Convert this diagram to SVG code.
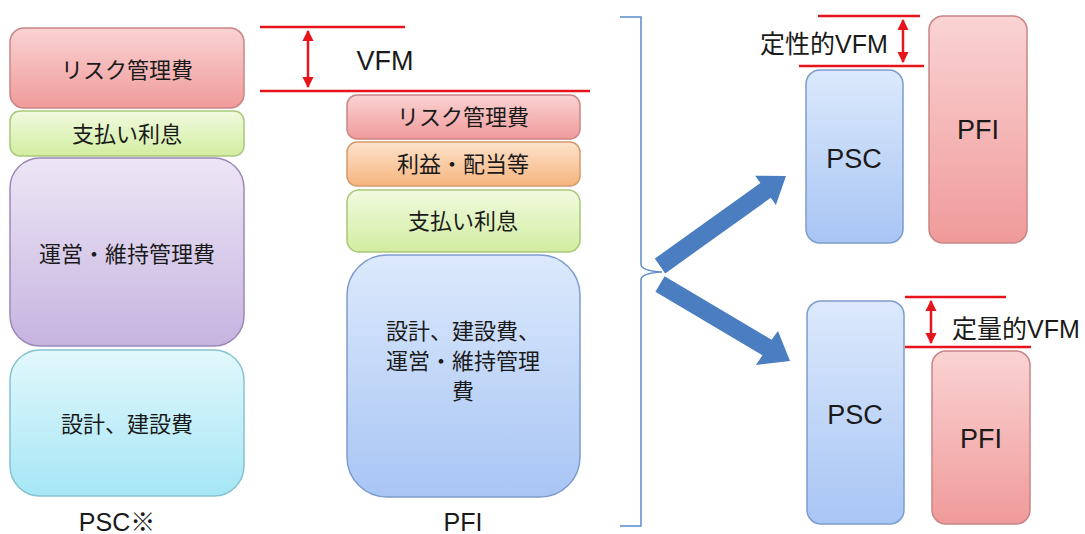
<svg xmlns="http://www.w3.org/2000/svg" width="1085" height="534" viewBox="0 0 1085 534">
<defs>
<linearGradient id="gRed" x1="0" y1="0" x2="0" y2="1"><stop offset="0" stop-color="#fad3d3"/><stop offset="1" stop-color="#f09a9a"/></linearGradient>
<linearGradient id="gGreen" x1="0" y1="0" x2="0" y2="1"><stop offset="0" stop-color="#f1fadf"/><stop offset="1" stop-color="#d2eda0"/></linearGradient>
<linearGradient id="gPurple" x1="0" y1="0" x2="0" y2="1"><stop offset="0" stop-color="#ede6f5"/><stop offset="1" stop-color="#c6b4e0"/></linearGradient>
<linearGradient id="gCyan" x1="0" y1="0" x2="0" y2="1"><stop offset="0" stop-color="#e2f8fc"/><stop offset="1" stop-color="#a6e6f5"/></linearGradient>
<linearGradient id="gOrange" x1="0" y1="0" x2="0" y2="1"><stop offset="0" stop-color="#fde3cb"/><stop offset="1" stop-color="#f6b47e"/></linearGradient>
<linearGradient id="gBlue" x1="0" y1="0" x2="0" y2="1"><stop offset="0" stop-color="#dce9fc"/><stop offset="1" stop-color="#a8c5f4"/></linearGradient>
<marker id="ah" viewBox="0 0 10 10" refX="9" refY="5" markerWidth="4.5" markerHeight="4.5" orient="auto-start-reverse"><path d="M0,0 L10,5 L0,10 z" fill="#e8141c"/></marker>
</defs>
<style>
text{font-family:"Liberation Sans","Noto Sans CJK JP",sans-serif;fill:#1a1a1a;text-anchor:middle}
.jp{font-size:22px}
.lbl{font-size:25px}
.vfm{font-size:27px}
.side{font-size:25px}
.big{font-size:27px}
.red{fill:url(#gRed);stroke:#c98585;stroke-width:1.5}
.green{fill:url(#gGreen);stroke:#a8c77a;stroke-width:1.5}
.purple{fill:url(#gPurple);stroke:#9c88b8;stroke-width:1.5}
.cyan{fill:url(#gCyan);stroke:#86c2cf;stroke-width:1.5}
.orange{fill:url(#gOrange);stroke:#d39b6b;stroke-width:1.5}
.blue{fill:url(#gBlue);stroke:#7d9ccc;stroke-width:1.5}
.rl{stroke:#e8141c;stroke-width:2.5;fill:none}
.ra{stroke:#e8141c;stroke-width:2.5;fill:none;marker-start:url(#ah);marker-end:url(#ah)}
</style>
<rect width="1085" height="534" fill="#ffffff"/>

<g id="psc-column">
<g id="psc-risk"><rect class="red" x="10" y="28" width="234" height="80" rx="14"/><text class="jp" x="127" y="78">リスク管理費</text></g>
<g id="psc-interest"><rect class="green" x="10" y="111" width="234" height="45" rx="10"/><text class="jp" x="127" y="142">支払い利息</text></g>
<g id="psc-om"><rect class="purple" x="10" y="158" width="234" height="188" rx="30"/><text class="jp" x="127" y="262">運営・維持管理費</text></g>
<g id="psc-design"><rect class="cyan" x="10" y="350" width="234" height="146" rx="30"/><text class="jp" x="127" y="432">設計、建設費</text></g>
<text class="lbl" x="117" y="531">PSC※</text>
</g>

<g id="pfi-column">
<g id="pfi-risk"><rect class="red" x="347" y="95" width="233" height="44" rx="10"/><text class="jp" x="463" y="125">リスク管理費</text></g>
<g id="pfi-profit"><rect class="orange" x="347" y="142" width="233" height="44" rx="10"/><text class="jp" x="463" y="172">利益・配当等</text></g>
<g id="pfi-interest"><rect class="green" x="347" y="190" width="233" height="62" rx="12"/><text class="jp" x="463" y="229">支払い利息</text></g>
<g id="pfi-cost"><rect class="blue" x="347" y="255" width="233" height="242" rx="40"/>
<text class="jp" x="463" y="339">設計、建設費、</text>
<text class="jp" x="463" y="369">運営・維持管理</text>
<text class="jp" x="463" y="399">費</text></g>
<text class="lbl" x="463" y="531">PFI</text>
</g>

<g id="vfm-main">
<line class="rl" x1="260" y1="27" x2="405" y2="27"/>
<line class="rl" x1="260" y1="91" x2="590" y2="91"/>
<line class="ra" x1="308" y1="31" x2="308" y2="87"/>
<text class="vfm" x="385" y="70">VFM</text>
</g>

<g id="connectors">
<path d="M620,17 L641,17 L641,264 Q641,271 662,272 Q641,273 641,280 L641,526 L620,526" fill="none" stroke="#5b8ccc" stroke-width="1.5"/>
<polygon points="654.8,258.6 760.4,183.0 755.2,175.7 786,176 775.9,205.1 770.8,197.8 665.2,273.4" fill="#4a7ec1"/>
<polygon points="664.6,276.3 771.6,339.7 778,331 790,361 756,365 762.4,355.2 655.4,291.7" fill="#4a7ec1"/>
</g>

<g id="qualitative">
<g id="q-psc"><rect class="blue" x="806" y="70" width="97" height="173" rx="14"/><text class="big" x="854" y="168">PSC</text></g>
<g id="q-pfi"><rect class="red" x="929" y="16" width="98" height="227" rx="14"/><text class="big" x="978" y="139">PFI</text></g>
<line class="rl" x1="818" y1="16" x2="920" y2="16"/>
<line class="rl" x1="799" y1="66" x2="924" y2="66"/>
<line class="ra" x1="903" y1="20" x2="903" y2="62"/>
<text class="side" x="824" y="53">定性的VFM</text>
</g>

<g id="quantitative">
<g id="n-psc"><rect class="blue" x="807" y="301" width="97" height="223" rx="14"/><text class="big" x="855" y="424">PSC</text></g>
<g id="n-pfi"><rect class="red" x="932" y="351" width="98" height="173" rx="14"/><text class="big" x="981" y="448">PFI</text></g>
<line class="rl" x1="905" y1="297" x2="1006" y2="297"/>
<line class="rl" x1="905" y1="347" x2="1031" y2="347"/>
<line class="ra" x1="931" y1="301" x2="931" y2="343"/>
<text class="side" x="1016" y="338">定量的VFM</text>
</g>
</svg>
